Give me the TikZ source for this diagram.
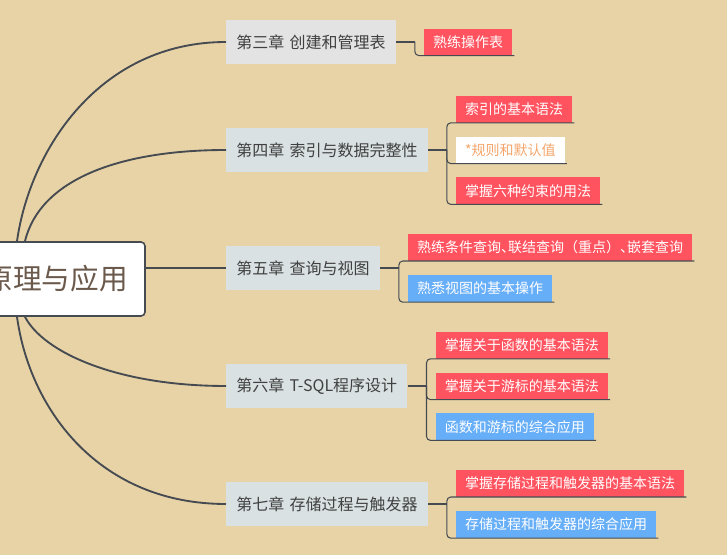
\documentclass[tikz,border=0pt]{standalone}
\usepackage{fontspec}
\usepackage{xcolor}
\usepackage{tikz}
\usetikzlibrary{positioning}

\newfontfamily\cjk{Noto Sans CJK SC}
\newfontfamily\cjkhalf[RawFeature=+halt]{Noto Sans CJK SC}
\newcommand\chapfont{\cjk\fontsize{12pt}{14pt}\selectfont\spaceskip 4pt\relax}

\definecolor{bg}{HTML}{E8D3A7}
\definecolor{linegray}{HTML}{454B51}
\definecolor{chapgray}{HTML}{D9E1E3}
\definecolor{chapgrayb}{HTML}{E3E3E3}
\definecolor{leafred}{HTML}{FF535F}
\definecolor{leafblue}{HTML}{66AEF8}
\definecolor{orangetext}{HTML}{F5A66B}
\definecolor{roottext}{HTML}{6B5A4C}

\begin{document}
\begin{tikzpicture}[x=0.75pt, y=-0.75pt,
    rootbox/.style={draw=linegray, line width=1.2pt, fill=white, rounded corners=3pt,
        font=\cjk\fontsize{21.5pt}{24pt}\selectfont, text=roottext,
        text width=160.5pt, align=right, inner xsep=12.75pt, minimum height=55.5pt},
    chapbox/.style={fill=chapgray, font=\chapfont,
        text=black!75, inner xsep=7.5pt, minimum height=32.5pt, anchor=west},
    leafbox/.style={fill=leafred, text=white, font=\cjk\fontsize{10.5pt}{12pt}\selectfont,
        inner xsep=6.75pt, minimum height=20pt},
    blueleaf/.style={leafbox, fill=leafblue},
    whiteleaf/.style={leafbox, fill=white, text=orangetext},
    trunk/.style={draw=linegray, line width=1.4pt},
    twig/.style={draw=linegray, line width=0.8pt, rounded corners=3pt}]

    \useasboundingbox (0,0) rectangle (727,555);
    \clip (0,0) rectangle (727,555);
    \fill[bg] (0,0) rectangle (727,555);

    \node[rootbox] (root) at (21,279) {原理与应用};

    \node[chapbox, fill=chapgrayb] (c3) at (226,42) {第三章 创建和管理表};
    \node[chapbox] (c4) at (226,150) {第四章 索引与数据完整性};
    \node[chapbox] (c5) at (226,268) {第五章 查询与视图};
    \node[chapbox] (c6) at (226,386) {第六章 T-SQL程序设计};
    \node[chapbox] (c7) at (226,504) {第七章 存储过程与触发器};

    \node[leafbox, right=21pt of c3.east] (l31) {熟练操作表};

    \node[whiteleaf, right=21pt of c4.east] (l42) {*规则和默认值};
    \node[leafbox, above right=20.4pt and 21pt of c4.east] (l41) {索引的基本语法};
    \node[leafbox, below right=20.4pt and 21pt of c4.east] (l43) {掌握六种约束的用法};

    \node[leafbox, above right=5.25pt and 21pt of c5.east] (l51) {熟练条件查询{\cjkhalf 、}联结查询（重点）{\cjkhalf 、}嵌套查询};
    \node[blueleaf, below right=5.25pt and 21pt of c5.east] (l52) {熟悉视图的基本操作};

    \node[leafbox, right=21pt of c6.east] (l62) {掌握关于游标的基本语法};
    \node[leafbox, above right=20.4pt and 21pt of c6.east] (l61) {掌握关于函数的基本语法};
    \node[blueleaf, below right=20.4pt and 21pt of c6.east] (l63) {函数和游标的综合应用};

    \node[leafbox, above right=5.25pt and 21pt of c7.east] (l71) {掌握存储过程和触发器的基本语法};
    \node[blueleaf, below right=5.25pt and 21pt of c7.east] (l72) {存储过程和触发器的综合应用};

    % root to chapters
    \draw[trunk] ([xshift=-3pt]root.north) .. controls +(13,-92) and +(-126,0) .. (c3.west);
    \draw[trunk] ([xshift=3pt]root.north) .. controls +(15,-62) and +(-106,0) .. (c4.west);
    \draw[trunk] ([yshift=8.25pt]root.east) -- (c5.west);
    \draw[trunk] ([xshift=3pt]root.south) .. controls +(18,35) and +(-110,0) .. (c6.west);
    \draw[trunk] ([xshift=-3pt]root.south) .. controls +(13,94) and +(-126,0) .. (c7.west);

    % chapters to leaves
    \foreach \c in {3,4,5,6,7} {
        \coordinate (b\c) at ([xshift=14.25pt]c\c.east);
        \draw[trunk] (c\c.east) -- (b\c);
    }
    \foreach \c/\l in {3/l31, 4/l41, 4/l42, 4/l43, 5/l51, 5/l52, 6/l61, 6/l62, 6/l63, 7/l71, 7/l72}
        \draw[twig] (b\c) |- (\l.south west) -- ([xshift=1.5pt]\l.south east);

\end{tikzpicture}
\end{document}
